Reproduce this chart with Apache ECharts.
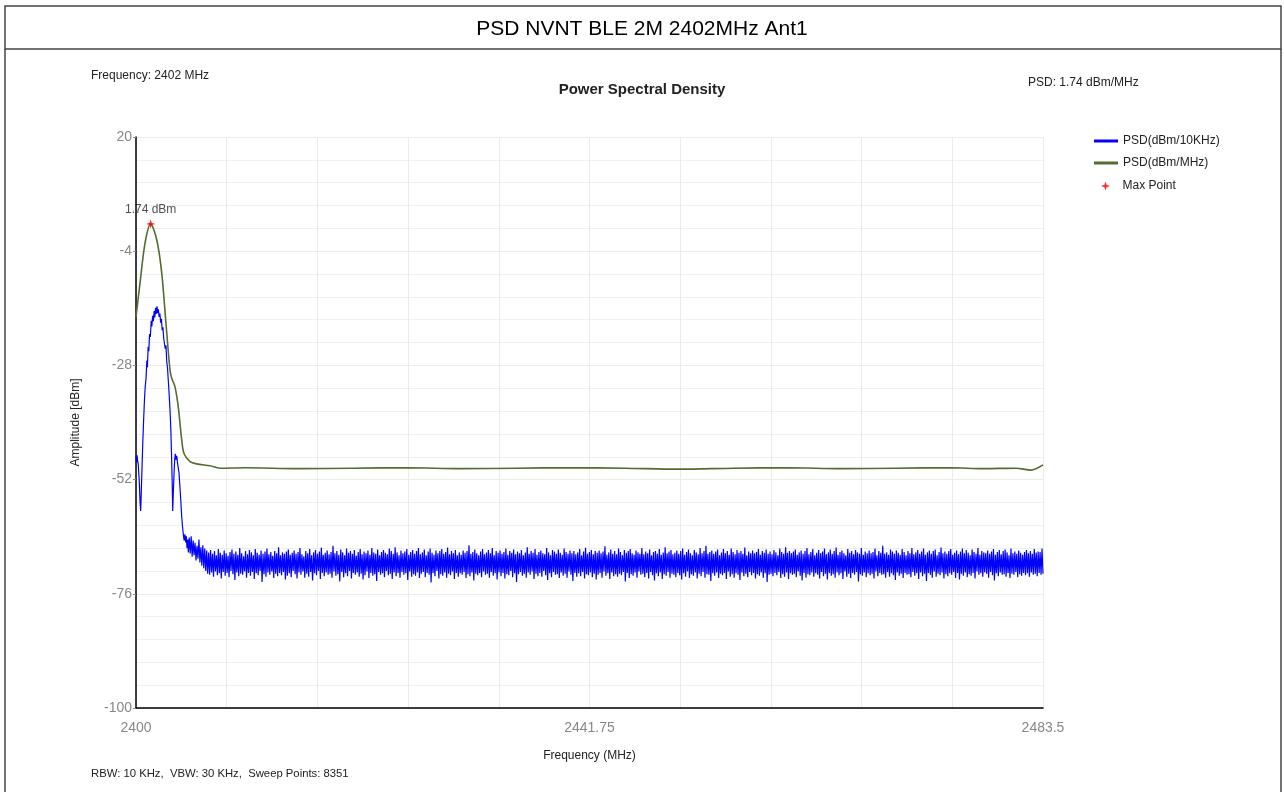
<!DOCTYPE html>
<html>
<head>
<meta charset="utf-8">
<title>PSD NVNT BLE 2M 2402MHz Ant1</title>
<script src="https://cdn.jsdelivr.net/npm/echarts@6/dist/echarts.min.js"></script>
<style>
  html, body { margin: 0; padding: 0; background: #fff; }
  #chart { width: 1284px; height: 792px; }
</style>
</head>
<body>
<div id="chart"></div>
<script>
// sweep / axis settings
var freqStart = 2400, freqStop = 2483.5;
var yMin = -100, yMax = 20;
var xTickLabels = [2400, 2441.75, 2483.5];

// PSD(dBm/MHz) - green trace, [MHz, dBm]
var mhzFreq = [2400.00, 2400.37, 2400.83, 2401.35, 2401.91, 2402.37, 2402.76, 2403.13, 2403.29, 2403.59, 2403.89, 2404.21, 2404.42, 2404.97, 2405.59, 2406.81, 2407.73,
  2410, 2415, 2420, 2425, 2430, 2435, 2440, 2445, 2450, 2455, 2460, 2465, 2470, 2475, 2478, 2481, 2482.4, 2483.5];
var mhzVals = [-17.8, -10.7, -2.3, 1.74, -1.6, -8.6, -19.2, -29.0, -30.7, -32.5, -36.7, -43.7, -46.5, -48.2, -48.7, -49.1, -49.6,
  -49.5, -49.7, -49.6, -49.5, -49.7, -49.6, -49.5, -49.6, -49.8, -49.6, -49.5, -49.7, -49.6, -49.5, -49.7, -49.6, -50.0, -48.9];

// PSD(dBm/10KHz) - blue trace, main lobe [MHz, dBm]
var lobeFreq = [2400.00, 2400.05, 2400.10, 2400.15, 2400.20, 2400.30, 2400.38, 2400.43, 2400.48, 2400.55, 2400.62, 2400.70, 2400.78, 2400.85, 2400.92,
  2401.00, 2401.05, 2401.12, 2401.18, 2401.25, 2401.32, 2401.40, 2401.46, 2401.53, 2401.60, 2401.67, 2401.73, 2401.80, 2401.86, 2401.93,
  2402.00, 2402.06, 2402.13, 2402.20, 2402.27, 2402.34, 2402.41, 2402.48, 2402.55, 2402.62, 2402.69, 2402.76, 2402.83, 2402.90, 2402.97,
  2403.05, 2403.13, 2403.20, 2403.27, 2403.33, 2403.38, 2403.43, 2403.50, 2403.56, 2403.62, 2403.68, 2403.75, 2403.82, 2403.89, 2403.96,
  2404.04, 2404.12, 2404.20, 2404.28, 2404.36, 2404.43, 2404.50, 2404.57, 2404.63, 2404.70, 2404.76, 2404.82];
var lobeVals = [-47.2, -48.4, -46.9, -48.1, -48.6, -52.3, -57.0, -58.6, -55.0, -50.0, -44.5, -39.6, -35.2, -32.4, -30.9,
  -27.0, -28.4, -24.1, -25.0, -21.4, -22.0, -18.6, -19.8, -17.6, -18.7, -16.6, -17.9, -15.9, -17.2, -15.6,
  -17.0, -16.2, -17.8, -17.1, -19.0, -18.2, -20.6, -20.0, -22.3, -21.9, -24.5, -23.8, -27.2, -28.5, -31.0,
  -34.0, -37.2, -41.0, -46.5, -52.5, -58.6, -55.0, -50.8, -47.9, -46.6, -47.8, -47.0, -48.4, -48.0, -50.6,
  -53.4, -56.2, -59.5, -61.8, -63.6, -64.8, -63.5, -65.2, -63.9, -66.4, -64.6, -67.3];

// blue trace noise floor, evenly spaced from floorStart to freqStop
var floorStart = 2404.9;
var floorVals = [
  -64.2, -67.5, -63.9, -68.2, -64.8, -67.9, -65.3, -69.0, -65.9, -68.6, -64.6, -69.4, -66.2, -70.1, -65.8, -70.6, -66.5, -71.2, -66.9, -71.8,
  -67.3, -72.0, -66.8, -71.5, -67.6, -72.4, -67.0, -71.3, -67.9, -72.1, -66.6, -71.7, -67.4, -72.8, -67.8, -71.4, -66.9, -72.2, -67.5, -71.6,
  -68.0, -72.5, -67.2, -71.2, -66.7, -71.9, -67.6, -73.1, -67.1, -71.5, -67.8, -72.3, -66.4, -71.8, -67.5, -72.0, -68.1, -71.3, -67.0, -72.6,
  -67.7, -71.6, -66.8, -72.2, -67.3, -71.4, -67.9, -72.9, -66.6, -71.7, -67.4, -72.1, -67.8, -71.2, -66.9, -73.5, -67.6, -71.9, -67.1, -72.4,
  -66.5, -71.5, -67.7, -72.0, -67.2, -71.3, -68.0, -72.7, -67.0, -71.8, -67.5, -72.3, -66.2, -71.6, -67.9, -72.1, -67.3, -71.4, -67.6, -73.0,
  -67.1, -72.2, -66.7, -71.7, -67.8, -72.5, -67.4, -71.2, -66.9, -71.9, -67.6, -72.8, -67.2, -71.5, -66.4, -72.0, -67.7, -71.3, -68.1, -72.6,
  -67.0, -71.8, -67.5, -72.4, -66.6, -71.4, -67.9, -73.2, -67.3, -71.7, -66.8, -72.1, -67.6, -71.2, -67.1, -72.9, -66.3, -71.6, -67.8, -72.3,
  -67.4, -71.5, -66.9, -72.0, -67.7, -71.8, -67.2, -72.6, -65.9, -71.3, -67.5, -72.2, -67.0, -71.9, -67.8, -73.4, -66.7, -71.4, -67.3, -72.5,
  -67.9, -71.7, -66.5, -72.3, -67.4, -71.2, -67.0, -72.8, -67.6, -71.6, -66.8, -72.0, -68.0, -71.5, -67.2, -72.4, -66.6, -71.8, -67.7, -73.0,
  -67.1, -72.1, -67.5, -71.3, -66.9, -72.7, -67.8, -71.6, -66.4, -72.2, -67.3, -71.9, -67.6, -73.3, -66.7, -71.4, -67.9, -72.0, -67.2, -71.7,
  -66.8, -72.5, -67.4, -71.2, -67.7, -72.1, -66.5, -71.8, -67.0, -72.9, -67.6, -71.5, -66.2, -72.3, -67.3, -71.6, -67.9, -72.6, -66.9, -71.4,
  -67.5, -72.0, -67.1, -71.7, -66.6, -73.1, -67.8, -71.3, -67.2, -72.4, -66.8, -71.9, -67.6, -72.2, -67.0, -71.5, -66.4, -72.7, -67.7, -71.8,
  -67.3, -71.4, -66.7, -72.5, -67.9, -71.6, -67.1, -72.0, -66.5, -73.6, -67.4, -71.7, -67.8, -72.3, -66.9, -71.2, -67.5, -72.8, -67.0, -71.9,
  -66.6, -72.2, -67.6, -71.5, -67.2, -72.6, -66.3, -71.8, -67.7, -72.1, -67.0, -71.3, -67.5, -72.9, -66.8, -71.6, -67.9, -72.4, -67.3, -71.7,
  -67.8, -72.0, -66.9, -71.4, -67.4, -72.7, -67.0, -71.9, -65.8, -72.3, -67.6, -71.5, -67.2, -73.2, -66.7, -71.8, -67.5, -72.1, -67.9, -71.6,
  -67.1, -72.5, -66.6, -71.3, -67.7, -72.0, -67.3, -71.8, -66.8, -72.6, -67.5, -71.4, -66.4, -72.2, -67.9, -71.7, -67.0, -73.0, -67.4, -71.5,
  -66.9, -72.3, -67.6, -71.6, -67.2, -72.8, -66.5, -71.9, -67.8, -72.1, -67.0, -71.2, -67.4, -72.5, -66.7, -71.7, -67.7, -73.5, -67.1, -71.9,
  -67.5, -71.4, -66.8, -72.2, -67.9, -71.8, -67.3, -72.6, -66.2, -71.5, -67.6, -72.0, -67.0, -71.3, -67.4, -72.9, -66.6, -71.8, -67.8, -72.3,
  -67.2, -71.6, -66.9, -72.4, -67.5, -71.2, -67.7, -72.1, -66.4, -73.1, -67.3, -71.7, -67.9, -72.5, -66.8, -71.4, -67.1, -72.0, -67.6, -71.9,
  -66.7, -72.7, -67.4, -71.5, -67.8, -72.2, -66.5, -71.8, -67.2, -72.6, -67.6, -71.3, -66.9, -72.0, -67.5, -73.3, -67.0, -71.6, -67.7, -72.4,
  -67.3, -71.7, -66.6, -72.3, -67.9, -71.4, -67.1, -72.8, -66.3, -71.9, -67.6, -72.1, -67.2, -71.5, -66.8, -72.5, -67.7, -71.8, -67.0, -73.0,
  -67.4, -72.0, -66.9, -71.6, -67.5, -72.6, -67.1, -71.3, -66.0, -72.2, -67.8, -71.7, -67.3, -72.9, -66.7, -71.5, -67.6, -72.3, -67.0, -71.9,
  -67.7, -72.4, -66.5, -71.8, -67.2, -72.1, -67.9, -71.4, -66.8, -73.4, -67.4, -71.6, -67.0, -72.7, -66.6, -71.9, -67.5, -72.2, -67.8, -71.5,
  -66.9, -72.6, -67.3, -71.3, -67.6, -72.0, -66.4, -71.8, -67.7, -72.5, -67.1, -71.6, -67.5, -72.8, -66.7, -71.4, -67.9, -72.1, -67.2, -73.2,
  -67.0, -71.7, -67.6, -72.3, -66.6, -71.5, -67.8, -72.9, -67.3, -71.9, -66.2, -72.2, -67.5, -71.4, -67.1, -72.6, -66.8, -71.8, -67.7, -72.0,
  -67.4, -72.5, -66.9, -71.6, -67.6, -72.1, -67.0, -73.0, -66.5, -71.7, -67.8, -72.4, -67.2, -71.3, -66.7, -72.7, -67.5, -71.9, -67.9, -72.2,
  -66.8, -71.5, -67.3, -72.8, -67.7, -71.8, -66.4, -72.3, -67.5, -71.4, -67.0, -72.6, -65.9, -71.9, -67.6, -72.0, -67.2, -73.3, -66.9, -71.7,
  -67.6, -72.2, -67.1, -71.5, -66.7, -72.7, -67.9, -71.8, -67.3, -72.1, -66.6, -71.6, -67.5, -72.9, -67.0, -71.3, -67.8, -72.4, -66.5, -71.9,
  -67.2, -72.6, -67.7, -71.7, -66.8, -72.0, -67.4, -73.1, -67.0, -71.5, -67.6, -72.3, -66.3, -71.8, -67.9, -72.5, -67.1, -71.4, -67.5, -72.1,
  -66.9, -71.6, -67.5, -72.8, -67.2, -71.9, -66.6, -72.2, -67.8, -71.5, -67.0, -72.6, -67.4, -71.7, -66.7, -73.5, -67.6, -72.0, -67.1, -71.8,
  -67.7, -72.3, -66.8, -71.6, -67.3, -72.1, -67.9, -71.4, -66.5, -72.7, -67.2, -71.9, -67.6, -72.4, -66.2, -71.5, -67.4, -72.9, -67.0, -71.7,
  -67.5, -72.0, -67.1, -71.8, -66.7, -72.5, -67.8, -71.3, -67.3, -72.2, -66.9, -73.2, -67.6, -71.6, -67.0, -72.6, -66.4, -71.9, -67.7, -72.1,
  -67.2, -71.5, -66.6, -72.4, -67.9, -71.7, -67.4, -72.0, -66.8, -72.8, -67.5, -71.4, -67.1, -72.3, -66.5, -71.8, -67.7, -73.0, -67.3, -71.6,
  -66.7, -72.2, -67.6, -71.9, -67.0, -72.6, -66.3, -71.5, -67.8, -72.1, -67.2, -71.7, -66.9, -72.9, -67.5, -71.3, -67.9, -72.4, -66.6, -71.8,
  -67.4, -72.7, -67.0, -71.6, -67.7, -72.0, -66.8, -71.4, -67.3, -73.4, -67.6, -71.9, -66.4, -72.2, -67.8, -71.5, -67.1, -72.5, -67.5, -71.7,
  -66.9, -72.1, -67.5, -71.8, -67.2, -72.8, -66.5, -71.3, -67.9, -72.3, -67.0, -71.6, -67.4, -72.0, -65.9, -71.9, -67.6, -72.6, -67.3, -71.4,
  -67.8, -72.4, -66.7, -71.7, -67.1, -72.1, -67.6, -73.1, -66.9, -71.5, -67.4, -72.2, -67.8, -71.8, -66.6, -72.7, -67.2, -71.6, -67.9, -72.0,
  -67.0, -71.9, -67.5, -72.5, -66.4, -71.4, -67.7, -72.2, -67.3, -71.7, -66.8, -72.9, -67.6, -71.5, -67.1, -72.3, -66.5, -71.8, -67.8, -73.3,
  -67.3, -71.6, -66.9, -72.0, -67.6, -72.6, -67.0, -71.3, -66.7, -72.4, -67.9, -71.8, -67.2, -72.1, -66.3, -71.5, -67.5, -72.8, -67.1, -71.9,
  -67.6, -72.3, -67.0, -71.7, -66.6, -72.0, -67.8, -71.4, -67.4, -72.7, -66.9, -71.6, -67.7, -73.0, -67.1, -71.8, -66.5, -72.2, -67.5, -71.5,
  -66.8, -72.5, -67.4, -71.9, -67.9, -72.2, -66.7, -71.6, -67.2, -72.8, -67.6, -71.3, -66.4, -72.0, -67.8, -71.7, -67.0, -72.4, -67.3, -71.5,
  -67.5, -71.8, -66.9, -72.6, -67.6, -71.4, -67.1, -72.1, -66.6, -73.2, -67.8, -71.7, -67.2, -72.3, -66.8, -71.5, -67.7, -72.0, -67.0, -71.9,
  -66.7, -72.4, -67.3, -71.6, -67.9, -72.7, -66.5, -71.8, -67.5, -72.0, -67.1, -71.4, -67.6, -72.5, -66.9, -71.9, -67.4, -72.2, -67.8, -71.6,
  -67.2, -72.1, -66.8, -71.7, -67.5, -72.4, -67.0, -71.5, -67.6, -72.0, -66.6, -71.8, -67.3, -72.3, -67.1, -71.6, -67.2, -72.0, -66.5, -71.8
];

// max point
var maxFreq = 2401.35, maxVal = 1.74;

var font = '"Liberation Sans", Arial, sans-serif';

var mhzData = mhzFreq.map(function(f, i) { return [f, mhzVals[i]]; });
var blueData = lobeFreq.map(function(f, i) { return [f, lobeVals[i]]; });
var floorStep = (freqStop - floorStart) / (floorVals.length - 1);
floorVals.forEach(function(v, i) {
    blueData.push([floorStart + i * floorStep, v]);
});

var starPath = 'path://M0,-10 L2.6,-2.6 L10,0 L2.6,2.6 L0,10 L-2.6,2.6 L-10,0 L-2.6,-2.6 Z';

var chart = echarts.init(document.getElementById('chart'));
chart.setOption({
    animation: false,
    backgroundColor: '#fff',
    textStyle: { fontFamily: font },
    title: [
        { text: 'PSD NVNT BLE 2M 2402MHz Ant1', left: 'center', top: 19, padding: 0,
          textStyle: { fontFamily: font, fontSize: 21, fontWeight: 'normal', color: '#000' } },
        { text: 'Power Spectral Density', left: 'center', top: 82, padding: 0,
          textStyle: { fontFamily: font, fontSize: 15, fontWeight: 'bold', color: '#222' } },
        { text: 'Frequency: 2402 MHz', left: 91, top: 70, padding: 0,
          textStyle: { fontFamily: font, fontSize: 12, fontWeight: 'normal', color: '#222' } },
        { text: 'PSD: 1.74 dBm/MHz', left: 1028, top: 77, padding: 0,
          textStyle: { fontFamily: font, fontSize: 12, fontWeight: 'normal', color: '#222' } },
        { text: 'RBW: 10 KHz,  VBW: 30 KHz,  Sweep Points: 8351', left: 91, top: 768, padding: 0,
          textStyle: { fontFamily: font, fontSize: 11.3, fontWeight: 'normal', color: '#222' } }
    ],
    // page frame
    graphic: [
        { type: 'rect', shape: { x: 5, y: 6, width: 1276, height: 43 },
          style: { fill: 'none', stroke: '#444', lineWidth: 1.5 }, silent: true },
        { type: 'line', shape: { x1: 5, y1: 49, x2: 5, y2: 792 },
          style: { stroke: '#444', lineWidth: 1.5 }, silent: true },
        { type: 'line', shape: { x1: 1281, y1: 49, x2: 1281, y2: 792 },
          style: { stroke: '#444', lineWidth: 1.5 }, silent: true }
    ],
    legend: [
        { left: 1094, top: 134, padding: 0, orient: 'vertical', itemWidth: 24, itemHeight: 3, itemGap: 8,
          icon: 'rect', selectedMode: false,
          textStyle: { fontFamily: font, fontSize: 12, color: '#222', lineHeight: 14 },
          data: ['PSD(dBm/10KHz)', 'PSD(dBm/MHz)'] },
        { left: 1101, top: 180, padding: 0, orient: 'vertical', itemWidth: 24, itemHeight: 9, selectedMode: false,
          icon: starPath,
          textStyle: { fontFamily: font, fontSize: 12, color: '#222' },
          data: ['Max Point'] }
    ],
    grid: { left: 136, right: 241, top: 137, bottom: 84 },
    xAxis: {
        type: 'value',
        min: freqStart,
        max: freqStop,
        interval: (freqStop - freqStart) / 10,
        name: 'Frequency (MHz)',
        nameLocation: 'middle',
        nameGap: 42,
        nameTextStyle: { fontFamily: font, fontSize: 12, color: '#222' },
        axisLine: { onZero: false, lineStyle: { color: '#000', width: 1.5 } },
        axisTick: { show: false },
        axisLabel: {
            color: '#888', fontSize: 14, margin: 13, fontFamily: font,
            showMinLabel: true, showMaxLabel: true,
            formatter: function(v) {
                for (var i = 0; i < xTickLabels.length; i++) {
                    if (Math.abs(v - xTickLabels[i]) < 0.01) return String(xTickLabels[i]);
                }
                return '';
            }
        },
        splitLine: { show: true, lineStyle: { color: '#ebebeb', width: 1 } }
    },
    yAxis: {
        type: 'value',
        min: yMin,
        max: yMax,
        interval: 24,
        name: 'Amplitude [dBm]',
        nameLocation: 'middle',
        nameGap: 54,
        nameTextStyle: { fontFamily: font, fontSize: 12, color: '#222' },
        axisLine: { show: true, onZero: false, lineStyle: { color: '#000', width: 1.5 } },
        axisTick: { show: true, length: 3, lineStyle: { color: '#888' } },
        axisLabel: { color: '#888', fontSize: 14, margin: 4, fontFamily: font },
        splitLine: { show: true, lineStyle: { color: '#ebebeb', width: 1 } },
        minorTick: { show: false, splitNumber: 5 },
        minorSplitLine: { show: true, lineStyle: { color: '#f0f0f0', width: 1 } }
    },
    series: [
        {
            name: 'PSD(dBm/10KHz)',
            type: 'line',
            data: blueData,
            showSymbol: false,
            symbol: 'none',
            sampling: false,
            color: '#0000ff',
            lineStyle: { color: '#0000ff', width: 1.2 },
            silent: true,
            z: 2
        },
        {
            name: 'PSD(dBm/MHz)',
            type: 'line',
            data: mhzData,
            showSymbol: false,
            symbol: 'none',
            smooth: 0.3,
            color: '#556b2f',
            lineStyle: { color: '#556b2f', width: 1.6 },
            silent: true,
            z: 3
        },
        {
            name: 'Max Point',
            type: 'scatter',
            data: [[maxFreq, maxVal]],
            symbol: starPath,
            symbolSize: 9,
            color: '#ff0000',
            itemStyle: { color: '#ff0000' },
            label: {
                show: true, position: 'top', distance: 4,
                formatter: maxVal.toFixed(2) + ' dBm',
                color: '#222', fontSize: 12, fontFamily: font
            },
            silent: true,
            z: 5
        }
    ]
});
</script>
</body>
</html>
